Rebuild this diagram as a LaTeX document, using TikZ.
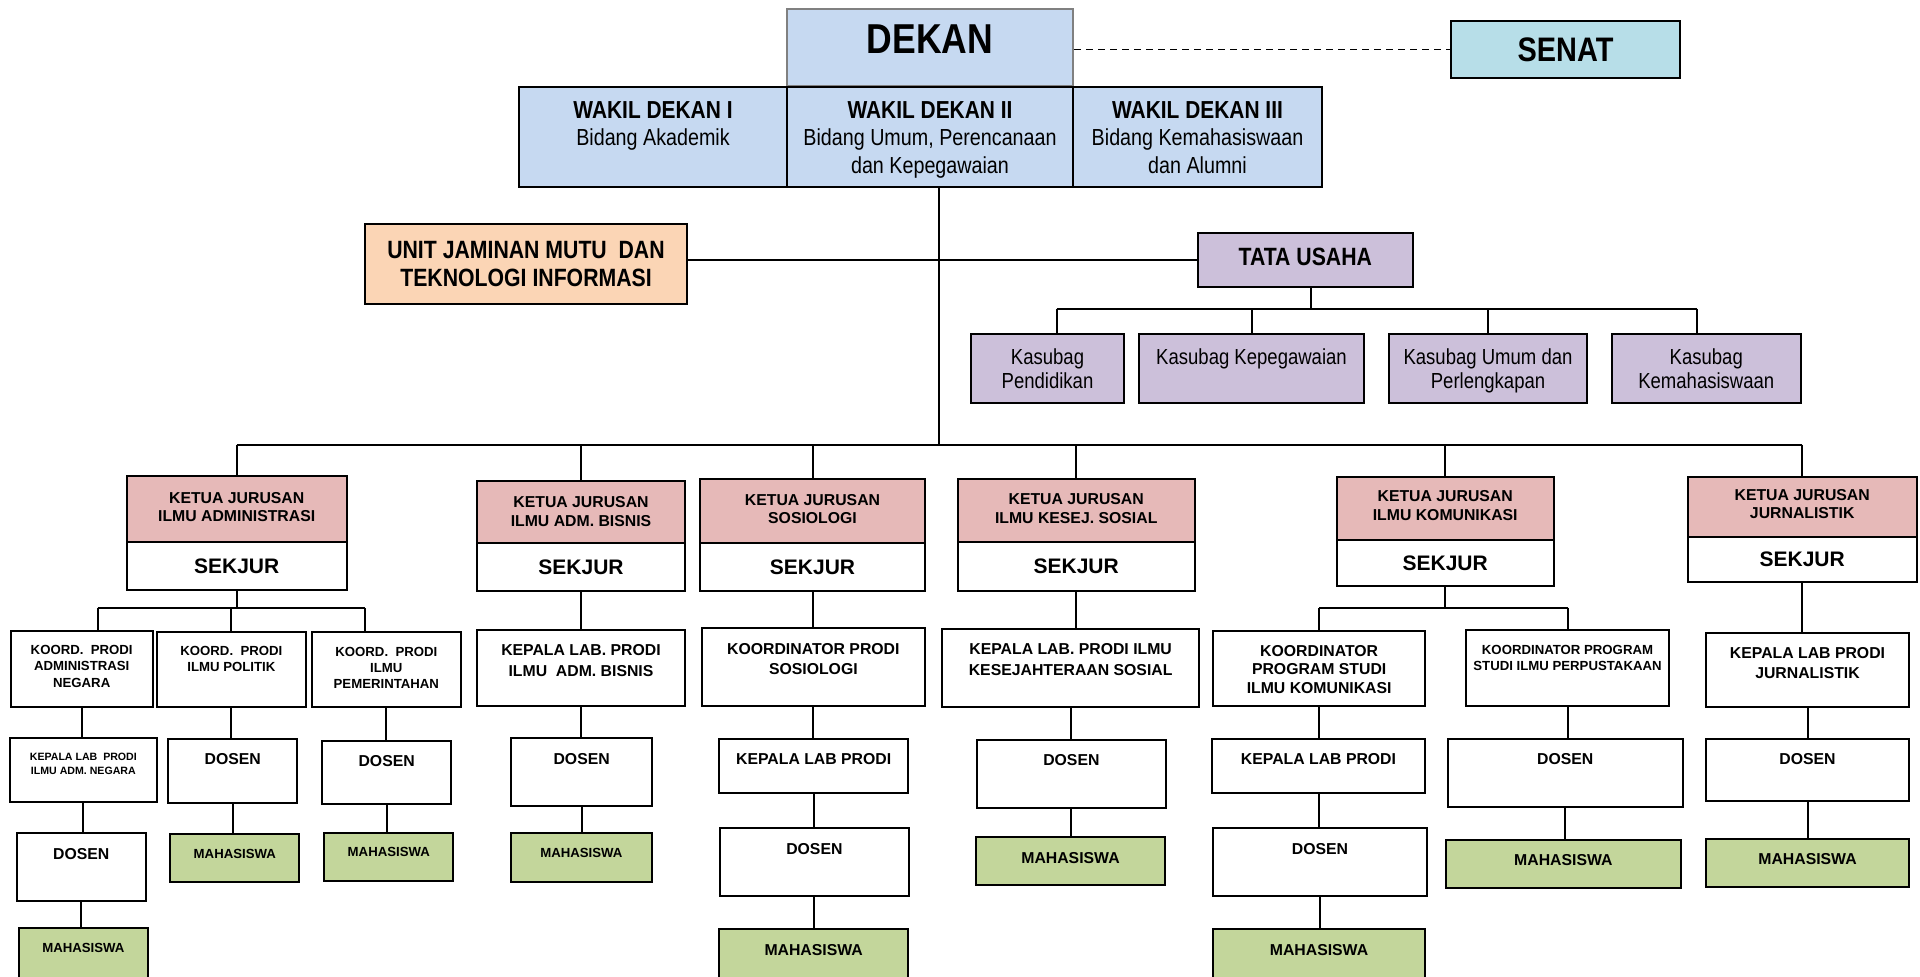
\documentclass[tikz,border=0pt]{standalone}
\usepackage{fontspec}
\setmainfont{Liberation Sans}
\newfontfamily\narrowfont[FakeStretch=0.85]{Liberation Sans}
\usepackage{xcolor}
\usetikzlibrary{fit}
\definecolor{dekanblue}{HTML}{C6D9F1}
\definecolor{senatblue}{HTML}{B7DEE8}
\definecolor{mutuorange}{HTML}{FBD5B5}
\definecolor{tupurple}{HTML}{CCC0DA}
\definecolor{ketuapink}{HTML}{E6B9B8}
\definecolor{mhsgreen}{HTML}{C3D69B}
\tikzset{
    box/.style={draw=black, line width=1pt, inner sep=0pt},
    toptxt/.style={anchor=north, inner sep=0pt, yshift=-7.7pt, align=center},
    midtxt/.style={anchor=center, inner sep=0pt, align=center},
    fdekan/.style={font=\narrowfont\bfseries\fontsize{20.9}{25}\selectfont},
    fsenat/.style={font=\narrowfont\bfseries\fontsize{17}{20}\selectfont},
    fwd/.style={font=\narrowfont\fontsize{11.6}{13.6}\selectfont},
    fkas/.style={font=\narrowfont\fontsize{10.9}{12}\selectfont},
    fhead/.style={font=\narrowfont\bfseries\fontsize{12.5}{14.25}\selectfont},
    fbig/.style={font=\bfseries\fontsize{10.5}{12}\selectfont},
    fnorm/.style={font=\bfseries\fontsize{7.9}{9.2}\selectfont},
    fbody/.style={font=\bfseries\fontsize{7.9}{10.2}\selectfont},
    fsmall/.style={font=\bfseries\fontsize{6.6}{8.1}\selectfont},
    ftiny/.style={font=\bfseries\fontsize{5.3}{7}\selectfont},
    link/.style={line width=1pt}
}
\newcommand{\wdtitle}[1]{{\bfseries\fontsize{12.3}{13}\selectfont #1}}
\begin{document}
\begin{tikzpicture}[x=0.5pt,y=-0.5pt]
                \useasboundingbox (0,0) rectangle (1920,976);
                \node[box, draw=gray, fill=dekanblue, fit={(787,8.6) (1073,86)}, label={[toptxt,yshift=-0.9pt,fdekan]north:DEKAN}] (dekan) {};
                \node[box, fill=dekanblue, fit={(519,87) (787,187)}, label={[toptxt,fwd]north:{\wdtitle{WAKIL DEKAN I}\\Bidang Akademik}}] (wdA) {};
                \node[box, fill=dekanblue, fit={(787,87) (1073,187)}, label={[toptxt,fwd]north:{\wdtitle{WAKIL DEKAN II}\\Bidang Umum, Perencanaan\\dan Kepegawaian}}] (wdB) {};
                \node[box, fill=dekanblue, fit={(1073,87) (1322,187)}, label={[toptxt,fwd]north:{\wdtitle{WAKIL DEKAN III}\\Bidang Kemahasiswaan\\dan Alumni}}] (wdC) {};
                \node[box, fill=senatblue, fit={(1451,21) (1680,78)}, label={[midtxt,fsenat]center:SENAT}] (senat) {};
                \node[box, fill=mutuorange, fit={(365,224) (687,304)}, label={[midtxt,fhead]center:{UNIT JAMINAN MUTU~~DAN\\TEKNOLOGI INFORMASI}}] (ujm) {};
                \node[box, fill=tupurple, fit={(1197.6,232.7) (1413,286.5)}, label={[midtxt,fhead,yshift=1.5pt]center:TATA USAHA}] (tu) {};
                \node[box, fill=tupurple, fit={(971,334) (1124,403)}, label={[toptxt,fkas]north:{Kasubag\\Pendidikan}}] (ksA) {};
                \node[box, fill=tupurple, fit={(1139,334) (1364,403)}, label={[toptxt,fkas]north:{Kasubag Kepegawaian}}] (ksB) {};
                \node[box, fill=tupurple, fit={(1389,334) (1587,403)}, label={[toptxt,fkas]north:{Kasubag Umum dan\\Perlengkapan}}] (ksC) {};
                \node[box, fill=tupurple, fit={(1611.5,334) (1801,403)}, label={[toptxt,fkas]north:{Kasubag\\Kemahasiswaan}}] (ksD) {};
                \coordinate (tr) at (939,444.5);
                \coordinate (kb) at (1311,308.5);
                \draw [line width=0.8pt, dash pattern=on 3.5pt off 2.5pt] (dekan.east |- senat.west) -- (senat.west);
                \draw [link] (tr |- wdB.south) -- (tr);
                \draw [link] (ujm.east |- tu.west) -- (tu.west);
                \draw [link] (kb |- tu.south) -- (kb);
                \draw [link] ([xshift=4.5pt]ksA.north |- kb) -- ([xshift=-4.5pt]ksD.north |- kb);
                \draw [link] ([xshift=4.5pt]ksA.north |- kb) -- ([xshift=4.5pt]ksA.north);
                \draw [link] (ksB.north |- kb) -- (ksB.north);
                \draw [link] (ksC.north |- kb) -- (ksC.north);
                \draw [link] ([xshift=-4.5pt]ksD.north |- kb) -- ([xshift=-4.5pt]ksD.north);
                \node[box, fill=ketuapink, fit={(126.7,476) (346.7,541.7)}, label={[midtxt,fnorm,yshift=1pt]center:{KETUA JURUSAN\\ILMU ADMINISTRASI}}] (kjA) {};
                \node[box, fill=white, fit={(126.7,541.7) (346.7,590)}, label={[midtxt,fbig]center:SEKJUR}] (skA) {};
                \node[box, fill=ketuapink, fit={(476.7,480.7) (685.3,542.7)}, label={[midtxt,fnorm]center:{KETUA JURUSAN\\ILMU ADM. BISNIS}}] (kjB) {};
                \node[box, fill=white, fit={(476.7,542.7) (685.3,591)}, label={[midtxt,fbig]center:SEKJUR}] (skB) {};
                \node[box, fill=ketuapink, fit={(700,479.3) (925,543.3)}, label={[midtxt,fnorm,yshift=1pt]center:{KETUA JURUSAN\\SOSIOLOGI}}] (kjC) {};
                \node[box, fill=white, fit={(700,543.3) (925,591)}, label={[midtxt,fbig]center:SEKJUR}] (skC) {};
                \node[box, fill=ketuapink, fit={(957.7,479) (1194.7,541.7)}, label={[midtxt,fnorm,yshift=1pt]center:{KETUA JURUSAN\\ILMU KESEJ. SOSIAL}}] (kjD) {};
                \node[box, fill=white, fit={(957.7,541.7) (1194.7,590.7)}, label={[midtxt,fbig]center:SEKJUR}] (skD) {};
                \node[box, fill=ketuapink, fit={(1336.7,477.3) (1553.7,540)}, label={[midtxt,fnorm,yshift=1.5pt]center:{KETUA JURUSAN\\ILMU KOMUNIKASI}}] (kjE) {};
                \node[box, fill=white, fit={(1336.7,540) (1553.7,586)}, label={[midtxt,fbig]center:SEKJUR}] (skE) {};
                \node[box, fill=ketuapink, fit={(1687.7,476.7) (1916.7,537.3)}, label={[midtxt,fnorm,yshift=1.5pt]center:{KETUA JURUSAN\\JURNALISTIK}}] (kjF) {};
                \node[box, fill=white, fit={(1687.7,537.3) (1916.7,582)}, label={[midtxt,fbig]center:SEKJUR}] (skF) {};
                \draw [link] (kjA.north |- tr) -- (kjF.north |- tr);
                \draw [link] (kjA.north |- tr) -- (kjA.north);
                \draw [link] (kjB.north |- tr) -- (kjB.north);
                \draw [link] (kjC.north |- tr) -- (kjC.north);
                \draw [link] (kjD.north |- tr) -- (kjD.north);
                \draw [link] (kjE.north |- tr) -- (kjE.north);
                \draw [link] (kjF.north |- tr) -- (kjF.north);
                \node[box, fit={(10.7,630.7) (152.7,706.7)}, label={[toptxt,fsmall]north:{KOORD.~~PRODI\\ADMINISTRASI\\NEGARA}}] (kpA1) {};
                \node[box, fit={(156.7,631.7) (306,706.7)}, label={[toptxt,fsmall]north:{KOORD.~~PRODI\\ILMU POLITIK}}] (kpA2) {};
                \node[box, fit={(311.7,632) (461,707)}, label={[toptxt,fsmall]north:{KOORD.~~PRODI\\ILMU\\PEMERINTAHAN}}] (kpA3) {};
                \node[box, fit={(10,738.3) (156.7,802.3)}, label={[toptxt,ftiny]north:{KEPALA LAB~~PRODI\\ILMU ADM. NEGARA}}] (klA) {};
                \node[box, fit={(16.7,833.3) (145.7,901)}, label={[toptxt,fnorm]north:DOSEN}] (dsA1) {};
                \node[box, fill=mhsgreen, fit={(19,928.3) (147.7,985)}, label={[toptxt,fsmall]north:MAHASISWA}] (mhA1) {};
                \node[box, fit={(168.3,738.7) (297.3,803.3)}, label={[toptxt,fnorm]north:DOSEN}] (dsA2) {};
                \node[box, fill=mhsgreen, fit={(170.3,834) (299.3,881.7)}, label={[toptxt,fsmall]north:MAHASISWA}] (mhA2) {};
                \node[box, fit={(322.3,740.7) (451,804)}, label={[toptxt,fnorm]north:DOSEN}] (dsA3) {};
                \node[box, fill=mhsgreen, fit={(324.3,832.7) (453.3,880.7)}, label={[toptxt,fsmall]north:MAHASISWA}] (mhA3) {};
                \coordinate (bA1) at (97.7,608.3);
                \coordinate (bA3) at (365.3,608.3);
                \draw [link] (skA.south) -- (skA.south |- bA1);
                \draw [link] (bA1) -- (bA3);
                \draw [link] (bA1) -- (bA1 |- kpA1.north);
                \draw [link] (kpA2.north |- bA1) -- (kpA2.north);
                \draw [link] (bA3) -- (bA3 |- kpA3.north);
                \draw [link] (kpA1.south) -- (kpA1.south |- klA.north);
                \draw [link] (klA.south) -- (klA.south |- dsA1.north);
                \draw [link] (dsA1.south) -- (dsA1.south |- mhA1.north);
                \draw [link] (kpA2.south) -- (kpA2.south |- dsA2.north);
                \draw [link] (dsA2.south) -- (dsA2.south |- mhA2.north);
                \draw [link] (kpA3.south) -- (kpA3.south |- dsA3.north);
                \draw [link] (dsA3.south) -- (dsA3.south |- mhA3.north);
                \node[box, fit={(476.7,630) (685.3,705.7)}, label={[toptxt,fbody]north:{KEPALA LAB. PRODI\\ILMU~~ADM. BISNIS}}] (klB) {};
                \node[box, fit={(511,738.3) (652.3,806)}, label={[toptxt,fnorm]north:DOSEN}] (dsB) {};
                \node[box, fill=mhsgreen, fit={(511,833.3) (651.7,881.7)}, label={[toptxt,fsmall]north:MAHASISWA}] (mhB) {};
                \draw [link] (skB.south) -- (skB.south |- klB.north);
                \draw [link] (klB.south) -- (klB.south |- dsB.north);
                \draw [link] (dsB.south) -- (dsB.south |- mhB.north);
                \node[box, fit={(701.7,628.3) (925,706)}, label={[toptxt,fbody]north:{KOORDINATOR PRODI\\SOSIOLOGI}}] (kpC) {};
                \node[box, fit={(719,738.7) (908.3,793.3)}, label={[toptxt,fnorm]north:KEPALA LAB PRODI}] (klC) {};
                \node[box, fit={(719.7,828.3) (909,895.7)}, label={[toptxt,fnorm]north:DOSEN}] (dsC) {};
                \node[box, fill=mhsgreen, fit={(719,929.3) (908.3,985)}, label={[toptxt,fnorm]north:MAHASISWA}] (mhC) {};
                \draw [link] (skC.south) -- (skC.south |- kpC.north);
                \draw [link] (kpC.south) -- (kpC.south |- klC.north);
                \draw [link] (klC.south) -- (klC.south |- dsC.north);
                \draw [link] (dsC.south) -- (dsC.south |- mhC.north);
                \node[box, fit={(942,629) (1199.3,706.7)}, label={[toptxt,fbody]north:{KEPALA LAB. PRODI ILMU\\KESEJAHTERAAN SOSIAL}}] (klD) {};
                \node[box, fit={(977,740) (1165.7,808.3)}, label={[toptxt,fnorm]north:DOSEN}] (dsD) {};
                \node[box, fill=mhsgreen, fit={(976,837.3) (1165,885)}, label={[toptxt,fnorm]north:MAHASISWA}] (mhD) {};
                \draw [link] (skD.south) -- (skD.south |- klD.north);
                \draw [link] (klD.south) -- (klD.south |- dsD.north);
                \draw [link] (dsD.south) -- (dsD.south |- mhD.north);
                \node[box, fit={(1213.3,630.7) (1425,706)}, label={[toptxt,fnorm]north:{KOORDINATOR\\PROGRAM STUDI\\ILMU KOMUNIKASI}}] (kpE1) {};
                \node[box, fit={(1465.7,630) (1669.3,705.7)}, label={[toptxt,fsmall]north:{KOORDINATOR PROGRAM\\STUDI ILMU PERPUSTAKAAN}}] (kpE2) {};
                \node[box, fit={(1212,739) (1425,793.3)}, label={[toptxt,fnorm]north:KEPALA LAB PRODI}] (klE) {};
                \node[box, fit={(1213.3,828.3) (1426.7,896)}, label={[toptxt,fnorm]north:DOSEN}] (dsE1) {};
                \node[box, fill=mhsgreen, fit={(1213,929.3) (1425,985)}, label={[toptxt,fnorm]north:MAHASISWA}] (mhE1) {};
                \node[box, fit={(1447.7,739) (1682.7,806.7)}, label={[toptxt,fnorm]north:DOSEN}] (dsE2) {};
                \node[box, fill=mhsgreen, fit={(1446,840) (1680.7,887.7)}, label={[toptxt,fnorm]north:MAHASISWA}] (mhE2) {};
                \coordinate (bE) at (1313.3,607.7);
                \draw [link] (skE.south) -- (skE.south |- bE);
                \draw [link] (kpE1.north |- bE) -- (kpE2.north |- bE);
                \draw [link] (kpE1.north |- bE) -- (kpE1.north);
                \draw [link] (kpE2.north |- bE) -- (kpE2.north);
                \draw [link] (kpE1.south) -- (kpE1.south |- klE.north);
                \draw [link] (klE.south) -- (klE.south |- dsE1.north);
                \draw [link] (dsE1.south) -- (dsE1.south |- mhE1.north);
                \draw [link] (kpE2.south) -- (kpE2.south |- dsE2.north);
                \draw [link] (dsE2.south) -- (dsE2.south |- mhE2.north);
                \node[box, fit={(1705.7,632.7) (1909.3,706.7)}, label={[toptxt,fbody]north:{KEPALA LAB PRODI\\JURNALISTIK}}] (klF) {};
                \node[box, fit={(1705.7,738.7) (1909.3,801)}, label={[toptxt,fnorm]north:DOSEN}] (dsF) {};
                \node[box, fill=mhsgreen, fit={(1705.7,839) (1909.3,886.7)}, label={[toptxt,fnorm]north:MAHASISWA}] (mhF) {};
                \draw [link] (skF.south) -- (skF.south |- klF.north);
                \draw [link] (klF.south) -- (klF.south |- dsF.north);
                \draw [link] (dsF.south) -- (dsF.south |- mhF.north);
            \end{tikzpicture}
\end{document}
